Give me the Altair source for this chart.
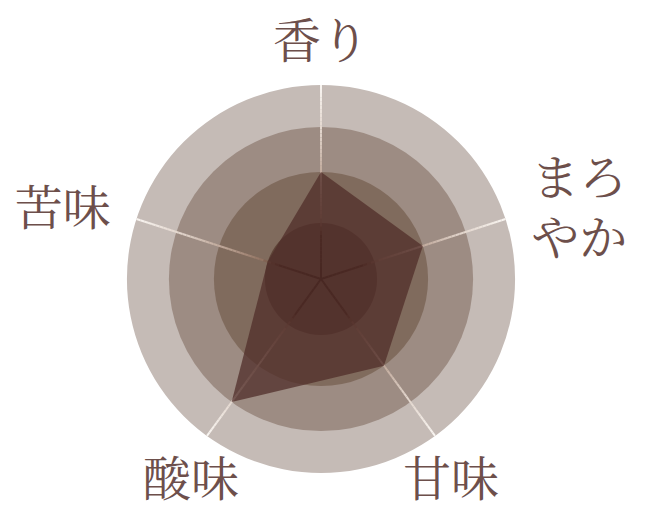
import math
import numpy as np
import pandas as pd
import altair as alt

# ---------------- data ----------------
axes = ["香り", "まろやか", "甘味", "酸味", "苦味"]
axis_labels = ["香り", "まろ\nやか", "甘味", "酸味", "苦味"]
scores = [2, 2, 2, 3, 1]
ring_levels = [4, 3, 2, 1]
ring_colors = ["#c5bbb6", "#9d8c83", "#806b5d", "#5e4438"]

# radial value scale (level -> fraction of outer radius), read from the rings
level_stops = [0, 1, 2, 3, 4]
radius_stops = [0, 0.289, 0.552, 0.784, 1.0]

# spoke gradient (position along spoke -> colour)
grad_pos = [0.0, 0.22, 0.32, 0.5, 0.75, 1.0]
grad_col = [(48, 22, 14), (60, 30, 20), (145, 115, 98), (185, 160, 145), (225, 212, 203), (250, 246, 242)]

# ---------------- layout ----------------
W, H = 633, 500
R_PX = 194.0
CX, CY = 313.0, 271.0
xs = alt.Scale(domain=[-CX / R_PX, (W - CX) / R_PX], nice=False, zero=False)
ys = alt.Scale(domain=[-(H - CY) / R_PX, CY / R_PX], nice=False, zero=False)
LABEL_R = 1.14
FONT = "Noto Serif CJK JP, Noto Sans CJK JP"
TEXT_COLOR = "#6d4f4b"
FONT_SIZE = 48
LINE_H = 60


def radial(v):
    return float(np.interp(v, level_stops, radius_stops))


n_ax = len(axes)
angles = [2 * math.pi * k / n_ax for k in range(n_ax)]

# rings
ring_df = pd.DataFrame({
    "level": ring_levels,
    "frac": [radial(l) for l in ring_levels],
    "color": ring_colors,
    "cx": 0.0,
    "cy": 0.0,
})
rings = alt.Chart(ring_df).mark_arc(theta=0, theta2=2 * math.pi).encode(
    x=alt.X("cx:Q", scale=xs, axis=None),
    y=alt.Y("cy:Q", scale=ys, axis=None),
    radius=alt.Radius("frac:Q", stack=None,
                      scale=alt.Scale(type="linear", domain=[0, 1], range=[0, R_PX], zero=True)),
    color=alt.Color("color:N", scale=None),
)


def grad_color(t):
    r = np.interp(t, grad_pos, [c[0] for c in grad_col])
    g = np.interp(t, grad_pos, [c[1] for c in grad_col])
    b = np.interp(t, grad_pos, [c[2] for c in grad_col])
    return "#%02x%02x%02x" % (int(r), int(g), int(b))


# spokes as short graded segments
NSEG = 48
rows = []
for a in angles:
    s, c = math.sin(a), math.cos(a)
    for i in range(NSEG):
        t0, t1 = i / NSEG, (i + 1) / NSEG
        rows.append({"x": t0 * s, "y": t0 * c, "x2": t1 * s, "y2": t1 * c,
                     "color": grad_color((t0 + t1) / 2)})
spoke_df = pd.DataFrame(rows)
spokes = alt.Chart(spoke_df).mark_rule(strokeWidth=2).encode(
    x=alt.X("x:Q", scale=xs, axis=None),
    y=alt.Y("y:Q", scale=ys, axis=None),
    x2="x2:Q",
    y2="y2:Q",
    color=alt.Color("color:N", scale=None),
)

# data polygon
poly_df = pd.DataFrame({
    "axis": axes,
    "score": scores,
    "i": list(range(n_ax)),
    "x": [radial(v) * math.sin(a) for v, a in zip(scores, angles)],
    "y": [radial(v) * math.cos(a) for v, a in zip(scores, angles)],
})
poly = alt.Chart(poly_df).mark_line(
    interpolate="linear-closed", fill="#502d29", fillOpacity=0.75,
    stroke="#502d29", strokeOpacity=0, strokeWidth=0,
).encode(
    x=alt.X("x:Q", scale=xs, axis=None),
    y=alt.Y("y:Q", scale=ys, axis=None),
    order="i:Q",
)

# labels
label_layers = []
for lab, a in zip(axis_labels, angles):
    s, c = math.sin(a), math.cos(a)
    dy = 0
    if c > 0.8:
        align, baseline = "center", "alphabetic"
    elif c < -0.5:
        align, baseline = "center", "top"
    elif s > 0:
        align, baseline = "left", "middle"
    else:
        align, baseline = "right", "middle"
    if baseline == "middle":
        dy = -(lab.count("\n")) * LINE_H / 2
    df = pd.DataFrame({"label": [lab], "x": [LABEL_R * s], "y": [LABEL_R * c]})
    label_layers.append(
        alt.Chart(df).mark_text(
            align=align, baseline=baseline, fontSize=FONT_SIZE, font=FONT,
            color=TEXT_COLOR, lineBreak="\n", lineHeight=LINE_H, dy=dy,
        ).encode(
            x=alt.X("x:Q", scale=xs, axis=None),
            y=alt.Y("y:Q", scale=ys, axis=None),
            text="label:N",
        )
    )

chart = alt.layer(rings, spokes, poly, *label_layers).properties(
    width=W, height=H, padding=0, background="white",
    autosize=alt.AutoSizeParams(type="none"),
).configure_view(stroke=None)

chart.save("out.html", embed_options={"renderer": "svg", "actions": False})
